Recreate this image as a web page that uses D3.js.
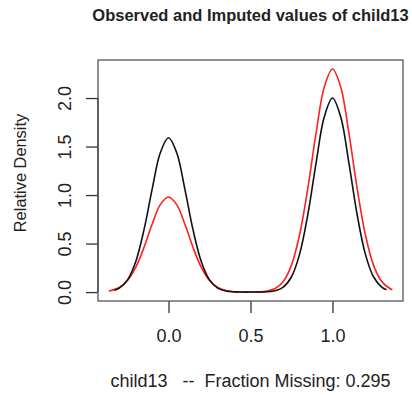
<!DOCTYPE html>
<html>
<head>
<meta charset="utf-8">
<script src="https://cdn.jsdelivr.net/npm/d3@7"></script>
<style>
  html, body { margin: 0; padding: 0; background: #fff; }
  #densityChart { width: 412px; height: 395px; }
  svg { display: block; font-family: "Liberation Sans", Arial, Helvetica, sans-serif; }
  .axis-label, .tick text { fill: #222; }
</style>
</head>
<body>
<div id="densityChart"></div>
<script>
// Observed (black) density of child13
const observedX = [-0.33, -0.30, -0.25, -0.20, -0.15, -0.10, -0.05, 0.00, 0.05, 0.10, 0.15, 0.20, 0.25,
    0.30, 0.35, 0.40, 0.45, 0.50, 0.55, 0.60, 0.65, 0.70, 0.75, 0.80, 0.85, 0.90, 0.95, 1.00,
    1.05, 1.10, 1.15, 1.20, 1.25, 1.30, 1.33];
const observedDensity = [0.019, 0.041, 0.126, 0.313, 0.638, 1.059, 1.436, 1.590, 1.436, 1.059, 0.638, 0.313, 0.126,
    0.041, 0.011, 0.002, 0.000, 0.000, 0.001, 0.003, 0.014, 0.052, 0.158, 0.394, 0.802, 1.332, 1.806, 2.000,
    1.806, 1.332, 0.802, 0.394, 0.158, 0.052, 0.024];

// Imputed (red) density of child13
const imputedX = [-0.365, -0.35, -0.30, -0.25, -0.20, -0.15, -0.10, -0.05, 0.00, 0.05, 0.10, 0.15, 0.20, 0.25,
    0.30, 0.35, 0.40, 0.45, 0.50, 0.55, 0.60, 0.65, 0.70, 0.75, 0.80, 0.85, 0.90, 0.95, 1.00,
    1.05, 1.10, 1.15, 1.20, 1.25, 1.30, 1.35, 1.365];
const imputedDensity = [0.011, 0.016, 0.047, 0.119, 0.254, 0.458, 0.699, 0.901, 0.980, 0.901, 0.699, 0.458, 0.254, 0.119,
    0.047, 0.016, 0.004, 0.001, 0.001, 0.002, 0.010, 0.037, 0.110, 0.278, 0.596, 1.074, 1.640, 2.114, 2.300,
    2.114, 1.640, 1.074, 0.596, 0.278, 0.110, 0.037, 0.025];

const xTicks = [0, 0.5, 1];
const yTicks = [0, 0.5, 1, 1.5, 2];

const chartTitle = 'Observed and Imputed values of child13';
const xLabel = 'child13   --  Fraction Missing: 0.295';
const yLabel = 'Relative Density';

function createDensityChart() {
    const container = d3.select('#densityChart');
    container.selectAll('*').remove();

    const margin = { top: 60, right: 9, bottom: 94, left: 98 };
    const width = 412 - margin.left - margin.right;
    const height = 395 - margin.top - margin.bottom;

    const svg = container.append('svg')
        .attr('width', 412)
        .attr('height', 395);

    const g = svg.append('g')
        .attr('transform', `translate(${margin.left},${margin.top})`);

    const xScale = d3.scaleLinear()
        .domain([-0.43, 1.43])
        .range([0, width]);

    const yScale = d3.scaleLinear()
        .domain([-0.092, 2.392])
        .range([height, 0]);

    // Axes (R style: ticks outside, no domain line)
    const xAxis = g.append('g')
        .attr('class', 'x-axis')
        .attr('transform', `translate(0, ${height})`)
        .call(d3.axisBottom(xScale).tickValues(xTicks).tickFormat(d3.format('.1f')).tickSizeInner(12).tickSizeOuter(0));
    xAxis.select('.domain').remove();
    xAxis.selectAll('line').attr('stroke', '#333').attr('stroke-width', 1.3);
    xAxis.selectAll('text')
        .attr('y', 41)
        .attr('dy', 0)
        .style('font-size', '18px');

    const yAxis = g.append('g')
        .attr('class', 'y-axis')
        .call(d3.axisLeft(yScale).tickValues(yTicks).tickFormat(d3.format('.1f')).tickSizeInner(12).tickSizeOuter(0));
    yAxis.select('.domain').remove();
    yAxis.selectAll('line').attr('stroke', '#333').attr('stroke-width', 1.3);
    yAxis.selectAll('text')
        .attr('x', 0)
        .attr('dy', 0)
        .attr('transform', 'translate(-27,0) rotate(-90)')
        .style('text-anchor', 'middle')
        .style('font-size', '18px');

    // Axis line spanning first to last tick
    g.append('line')
        .attr('x1', 0).attr('x2', 0)
        .attr('y1', yScale(yTicks[0])).attr('y2', yScale(yTicks[yTicks.length - 1]))
        .attr('stroke', '#333')
        .attr('stroke-width', 1.3);

    // Density curves
    const line = d3.line()
        .x(d => xScale(d[0]))
        .y(d => yScale(d[1]))
        .curve(d3.curveCatmullRom);

    g.append('path')
        .datum(d3.zip(imputedX, imputedDensity))
        .attr('fill', 'none')
        .attr('stroke', '#ff2020')
        .attr('stroke-width', 1.6)
        .attr('d', line);

    g.append('path')
        .datum(d3.zip(observedX, observedDensity))
        .attr('fill', 'none')
        .attr('stroke', '#111')
        .attr('stroke-width', 1.6)
        .attr('d', line);

    // Plot box
    g.append('rect')
        .attr('x', 0)
        .attr('y', 0)
        .attr('width', width)
        .attr('height', height)
        .attr('fill', 'none')
        .attr('stroke', '#555')
        .attr('stroke-width', 1.3);

    // Labels
    svg.append('text')
        .attr('x', margin.left + width / 2)
        .attr('y', 21)
        .style('text-anchor', 'middle')
        .style('font-size', '16.5px')
        .style('font-weight', 'bold')
        .attr('fill', '#222')
        .text(chartTitle);

    svg.append('text')
        .attr('class', 'axis-label')
        .attr('x', margin.left + width / 2)
        .attr('y', 387)
        .style('text-anchor', 'middle')
        .style('font-size', '18px')
        .style('white-space', 'pre')
        .text(xLabel);

    svg.append('text')
        .attr('class', 'axis-label')
        .attr('transform', 'translate(26, 173) rotate(-90)')
        .style('text-anchor', 'middle')
        .style('font-size', '16.4px')
        .text(yLabel);
}

createDensityChart();
</script>
</body>
</html>
